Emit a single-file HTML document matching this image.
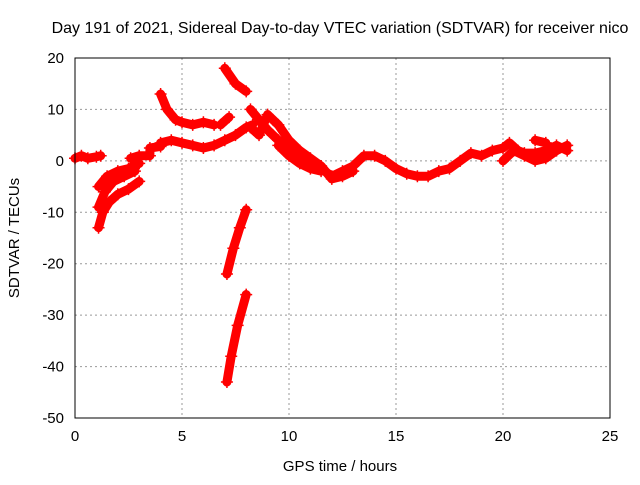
<!DOCTYPE html>
<html><head><meta charset="utf-8"><style>
body{margin:0;background:#fff;}
svg text{font-family:"Liberation Sans",sans-serif;font-size:15px;fill:#000;}
</style></head><body>
<svg id="chart" width="640" height="480">
<text x="340" y="33" text-anchor="middle" style="font-size:16px">Day 191 of 2021, Sidereal Day-to-day VTEC variation (SDTVAR) for receiver nico</text>
<text x="340" y="471" text-anchor="middle">GPS time / hours</text>
<text transform="translate(19,238) rotate(-90)" text-anchor="middle">SDTVAR / TECUs</text>
<g id="grid"></g><g id="marks"></g>
<rect x="75" y="58" width="535" height="360" fill="none" stroke="#000"/>
</svg>
<script>
const xTicks=[0,5,10,15,20,25];
const yTicks=[20,10,0,-10,-20,-30,-40,-50];
const track1=[[0,0.5],[0.3,1],[0.6,0.5],[1.0,0.8],[1.2,1]];
const track2=[[1.1,-13],[1.3,-10],[1.6,-8],[2,-6.5],[2.5,-5.5],[3,-4]];
const track3=[[1.1,-9],[1.4,-6],[1.8,-4],[2.3,-3],[2.8,-2]];
const track4=[[1.1,-5],[1.5,-3],[2,-2],[2.5,-1.5],[3,-0.5]];
const track5=[[2.6,0.5],[3,1],[3.5,1],[3.5,2.5],[4,2.8]];
const track6=[[4,13],[4.3,10],[4.7,8],[5,7.5],[5.5,7],[6,7.5],[6.5,7]];
const track7=[[4,3.5],[4.5,4],[5,3.5],[5.5,3],[6,2.5],[6.5,3],[7,4],[7.5,5],[8,6.5],[8.3,7]];
const track8=[[7.0,18],[7.5,15],[8,13.5]];
const track9=[[6.8,7],[7.2,8.5]];
const track10=[[7.1,-22],[7.4,-17],[7.7,-13],[8,-9.5]];
const track11=[[7.1,-43],[7.3,-38],[7.6,-32],[8,-26]];
const track12=[[8.2,10],[8.6,8],[9,6],[9.5,4],[10,2],[10.5,1],[11,0],[11.5,-1.5],[12,-3],[12.5,-2],[13,-1],[13.5,1],[14,1],[14.5,0],[15,-1.5],[15.5,-2.5],[16,-3],[16.5,-3],[17,-2],[17.5,-1.5],[18,0],[18.5,1.5],[19,1],[19.5,2],[20,2.5],[20.3,3.5],[20.7,2],[21,1.5],[21.5,1.5],[22,2],[22.5,3],[23,2]];
const track13=[[8.2,6.5],[8.6,5],[9,9],[9.5,7],[10,4],[10.5,2],[11,0.5],[11.5,-1],[12,-3.5],[12.5,-3],[13,-2]];
const track14=[[9.5,3],[10,1],[10.5,-0.5],[11,-1.5],[11.5,-2]];
const track15=[[20,0],[20.5,2],[21,1],[21.5,0],[22,0.5],[22.5,2],[23,3]];
const track16=[[21.5,4],[22,3.5]];
const tracks=[track1,track2,track3,track4,track5,track6,track7,track8,track9,track10,track11,track12,track13,track14,track15,track16];
const NS='http://www.w3.org/2000/svg';
const X=t=>75+t*535/25, Y=v=>58+(20-v)*360/70;
const grid=document.getElementById('grid'), marks=document.getElementById('marks');
function mk(tag,a,p){const e=document.createElementNS(NS,tag);for(const k in a)e.setAttribute(k,a[k]);p.appendChild(e);return e;}
xTicks.forEach(t=>{
 if(t>0&&t<25){const g=mk('line',{x1:X(t),x2:X(t),y1:58,y2:418,stroke:'#999','stroke-dasharray':'2,3'},grid);
 
 }
 const l=mk('text',{x:X(t),y:441,'text-anchor':'middle'},grid);l.textContent=t;
 
 
});
yTicks.forEach(v=>{
 if(v<20&&v>-50){const g=mk('line',{x1:75,x2:610,y1:Y(v),y2:Y(v),stroke:'#999','stroke-dasharray':'2,3'},grid);
 
 }
 const l=mk('text',{x:64,y:Y(v)+5,'text-anchor':'end'},grid);l.textContent=v;
 
 
});
tracks.forEach((tr,i)=>{
 const p=mk('polyline',{points:tr.map(d=>X(d[0])+','+Y(d[1])).join(' '),fill:'none',stroke:'#f00','stroke-width':9,'stroke-linejoin':'round','stroke-linecap':'round'},marks);
 
 
 tr.forEach(d=>{
  const x=X(d[0]),y=Y(d[1]);
  const m=mk('path',{d:`M${x-6},${y}H${x+6}M${x},${y-6}V${y+6}`,stroke:'#f00','stroke-width':1.5},marks);
  
  
 });
});
</script>
</body></html>
